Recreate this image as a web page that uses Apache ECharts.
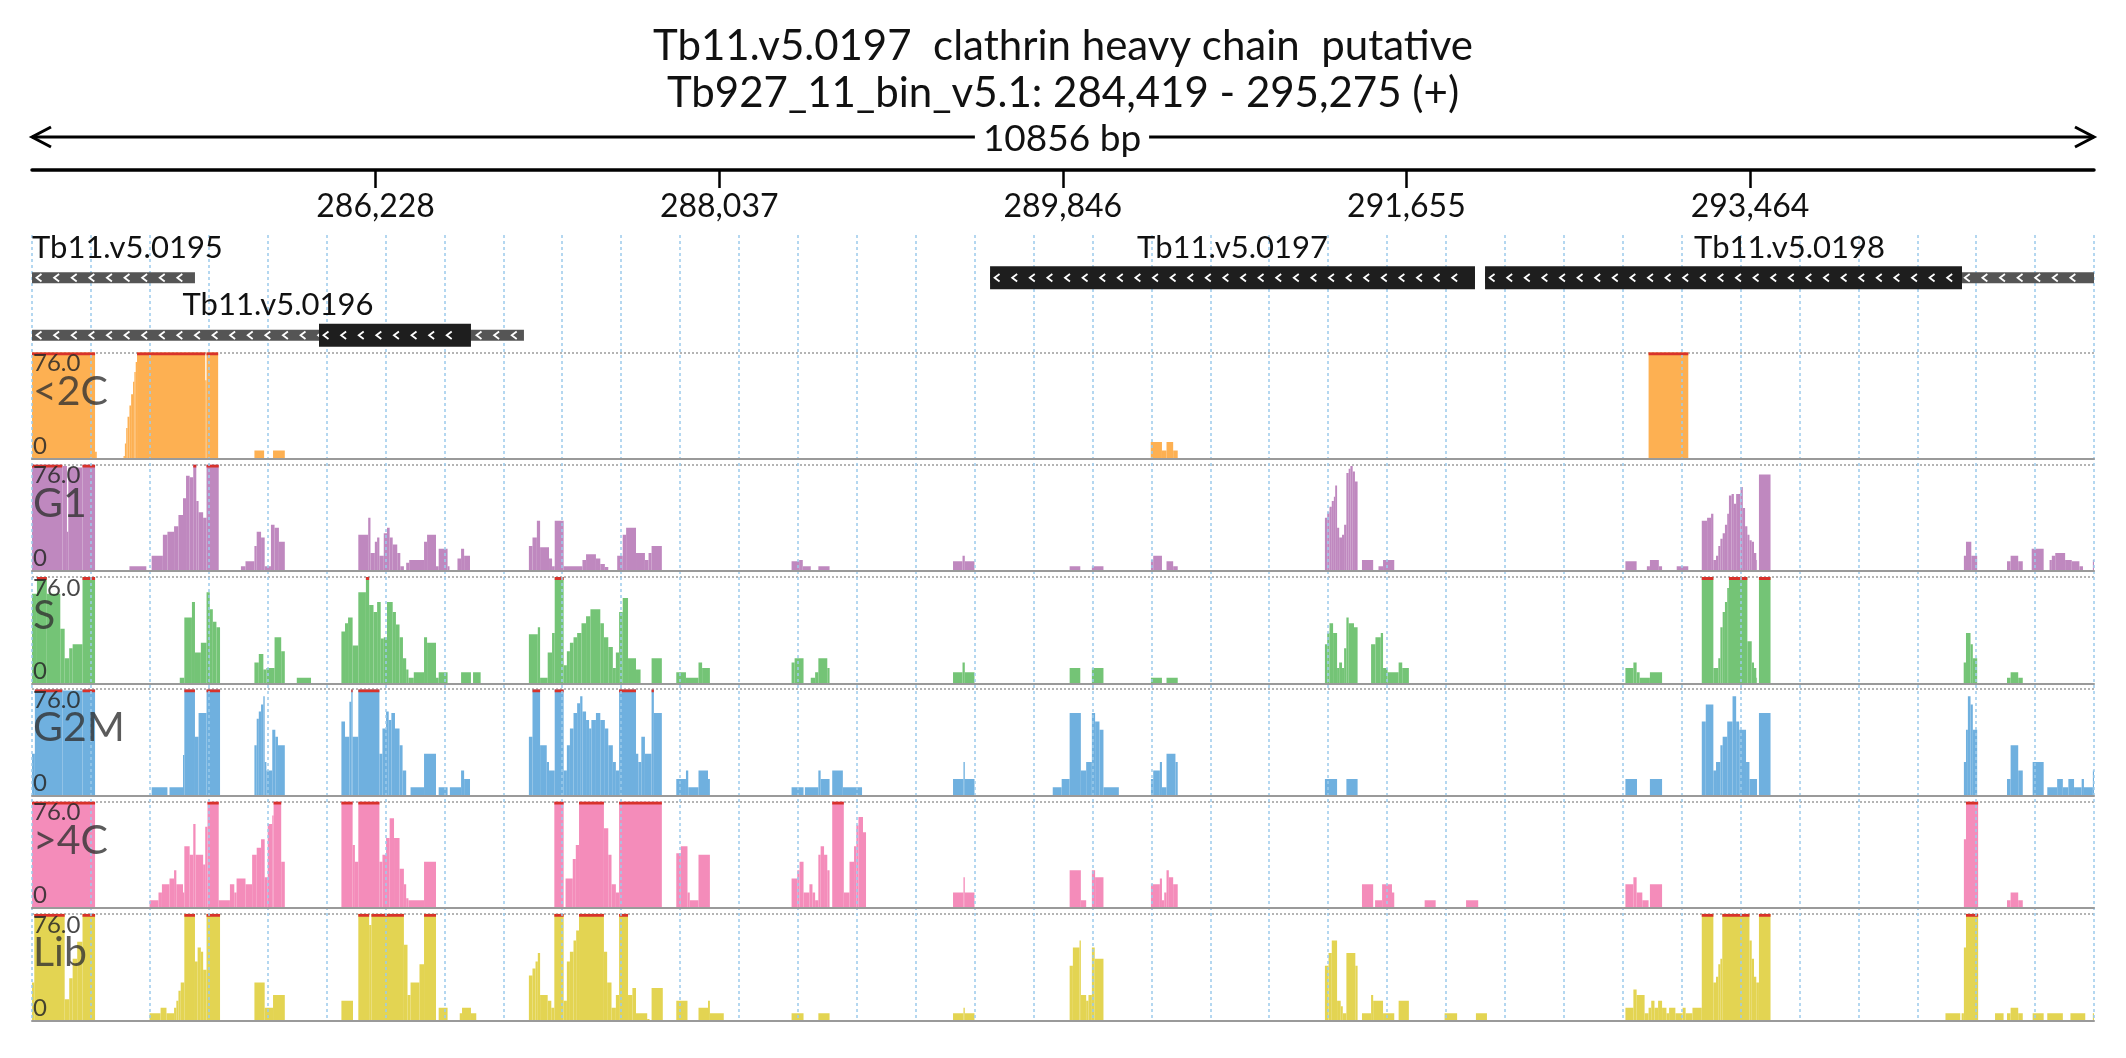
<!DOCTYPE html>
<html>
<head>
<meta charset="utf-8">
<script src="https://cdn.jsdelivr.net/npm/echarts@6/dist/echarts.min.js"></script>
<style>
html, body { margin: 0; padding: 0; background: #fff; }
#chart { width: 2126px; height: 1058px; }
</style>
</head>
<body>
<div id="chart"></div>
<script>
var REGION_START = 284419;
var REGION_END = 295275;
var REGION_LEN = REGION_END - REGION_START;
var TICK_OFFSETS = [1809, 3618, 5427, 7236, 9045];
var GRID_DIVISIONS = 35;
var TRACK_MAX = 76;

var trackNames = ['<2C', 'G1', 'S', 'G2M', '>4C', 'Lib'];
var trackColors = ['#fdb052', '#bf88bf', '#74c476', '#6fb0df', '#f48cba', '#e3d452'];

var geneNames = ['Tb11.v5.0195', 'Tb11.v5.0196', 'Tb11.v5.0197', 'Tb11.v5.0198'];
var geneRows = [0, 1, 0, 0];
var geneSpans = [[0, 858], [0, 2590], [5044, 7597], [7650, 10856]];
var cdsSpans = [null, [1511, 2311], [5044, 7597], [7650, 10161]];

// coverage steps: [offset from region start (bp), reads]; value holds until next offset, > 76 is clipped
var cov2C = [[0,80],[332,5],[341,0],[482,2],[489,11],[496,22],[503,30],[513,38],[522,46],[532,55],[539,62],[546,69],[553,80],[912,56],[919,80],[980,0],
  [1171,6],[1222,0],[1269,6],[1331,0],[5890,12],[5949,6],[5973,12],[6008,6],[6032,0],[8511,80],[8720,0]];

var covG1 = [[0,80],[160,75],[184,28],[191,74],[266,80],[332,0],[513,3.5],[602,0],
  [630,11],[689,26],[713,28],[748,32],[771,40],[795,52],[811,68],[830,67],[849,80],[865,50],[877,42],[901,38],[919,80],[983,0],
  [1100,3.5],[1124,7],[1171,18],[1183,28],[1206,24],[1225,3.5],[1258,33],[1277,31],[1300,21],[1331,0],
  [1718,26],[1770,38],[1782,13],[1805,21],[1817,24],[1829,11],[1852,27],[1869,31],[1883,24],[1899,19],[1923,13],[1939,3.5],[1958,0],
  [1970,6],[1986,8],[2064,21],[2080,26],[2127,3.5],[2141,16],[2188,3.5],[2198,0],[2240,9],[2259,16],[2275,11],[2306,0],
  [2616,18],[2635,24],[2658,36],[2675,17],[2722,9],[2738,3.5],[2752,36],[2799,3.5],[2898,8],[2917,12],[2969,9],[2992,5],[3016,3],[3034,0],
  [3081,11],[3110,26],[3128,31],[3180,13],[3227,8],[3246,13],[3262,18],[3316,0],
  [3999,7],[4039,8],[4058,3.5],[4100,0],[4140,3.5],[4199,0],[4849,7],[4899,11],[4911,7],[4962,0],
  [5463,3.5],[5519,0],[5580,3.5],[5641,0],[5891,8],[5903,11],[5949,0],[5973,7],[6008,3.5],[6032,0],
  [6807,38],[6819,42],[6831,46],[6843,50],[6854,53],[6861,61],[6871,31],[6882,24],[6897,26],[6908,33],[6920,70],[6932,73],[6941,75],[6953,71],[6965,64],[6979,0],
  [7002,8],[7061,0],[7089,3.5],[7113,8],[7172,0],
  [8389,7],[8448,0],[8502,3.5],[8518,8],[8565,3.5],[8582,0],[8659,3.5],[8720,0],
  [8791,36],[8819,38],[8840,41],[8852,8],[8866,11],[8878,18],[8889,23],[8901,27],[8913,33],[8925,41],[8934,54],[8948,55],[8960,48],[8972,55],[8995,60],
  [9007,45],[9019,32],[9031,26],[9042,22],[9054,21],[9066,13],[9078,8],[9082,0],[9092,69],[9153,0],
  [10171,11],[10182,21],[10210,11],[10241,0],[10398,7],[10417,11],[10457,7],[10481,0],[10528,16],[10591,0],
  [10622,8],[10634,11],[10652,13],[10704,8],[10739,7],[10779,3.5],[10798,0],[10850,8],[10856,0]];

var covS = [[0,64],[26,80],[78,64],[149,39],[172,18],[196,25],[214,28],[266,80],[332,0],
  [778,4],[802,47],[842,58],[858,22],[889,29],[919,65],[936,53],[952,44],[971,40],[990,0],
  [1171,15],[1194,21],[1218,10],[1234,11],[1277,33],[1312,23],[1331,0],[1394,4],[1469,0],
  [1629,37],[1648,43],[1664,47],[1688,27],[1718,65],[1758,80],[1775,56],[1798,51],[1817,58],[1836,32],[1852,33],[1869,58],[1899,51],[1916,42],
  [1935,33],[1953,18],[1970,10],[1982,4],[2010,8],[2064,33],[2080,29],[2127,4],[2141,8],[2188,0],[2259,8],[2311,0],[2322,8],[2362,0],
  [2616,35],[2663,40],[2675,4],[2715,22],[2738,36],[2752,80],[2799,13],[2816,23],[2832,29],[2851,33],[2870,36],[2893,43],[2917,48],[2940,53],
  [2992,43],[3011,33],[3034,26],[3058,11],[3074,22],[3091,51],[3110,61],[3138,18],[3180,10],[3204,0],[3262,18],[3316,0],
  [3392,8],[3443,4],[3509,15],[3528,11],[3569,0],
  [3999,15],[4015,18],[4062,0],[4100,4],[4123,8],[4140,18],[4187,11],[4199,0],[4849,8],[4899,15],[4911,8],[4962,0],
  [5463,11],[5519,0],[5580,11],[5641,0],[5891,4],[5949,0],[5973,4],[6032,0],
  [6807,28],[6819,36],[6831,43],[6850,36],[6871,11],[6882,15],[6897,11],[6908,25],[6920,47],[6932,43],[6960,40],[6979,0],
  [7050,28],[7073,33],[7101,36],[7113,11],[7137,8],[7195,15],[7214,11],[7249,0],
  [8389,11],[8431,15],[8448,8],[8464,4],[8518,8],[8582,0],
  [8791,80],[8852,11],[8878,18],[8889,40],[8901,51],[8913,58],[8925,68],[8934,80],[9031,30],[9054,15],[9066,11],[9078,4],[9082,0],[9092,80],[9153,0],
  [10170,15],[10182,36],[10206,28],[10218,18],[10241,0],[10398,4],[10417,8],[10457,4],[10481,0]];

var covG2M = [[0,30],[15,80],[160,75],[266,80],[332,0],
  [630,6],[713,0],[724,6],[795,29],[802,80],[858,42],[877,59],[919,80],[990,0],
  [1171,36],[1183,55],[1194,60],[1206,65],[1218,71],[1225,24],[1234,18],[1265,47],[1281,42],[1295,36],[1331,0],
  [1629,53],[1648,42],[1671,67],[1681,80],[1688,42],[1718,80],[1829,30],[1845,48],[1864,60],[1878,54],[1892,59],[1911,48],[1935,36],[1951,18],[1970,0],
  [1993,6],[2064,30],[2127,0],[2141,6],[2188,0],[2200,6],[2259,18],[2275,12],[2306,0],
  [2616,42],[2635,80],[2675,36],[2710,24],[2722,18],[2752,80],[2799,18],[2816,36],[2832,48],[2851,59],[2870,66],[2886,71],[2898,60],[2917,54],
  [2933,48],[2945,54],[2969,59],[2992,54],[3016,48],[3034,36],[3058,24],[3074,18],[3091,80],[3180,30],[3192,24],[3208,42],[3227,30],[3262,80],[3274,59],[3316,0],
  [3392,12],[3443,18],[3455,6],[3509,18],[3559,12],[3569,0],
  [3999,6],[4062,0],[4069,6],[4140,18],[4152,12],[4199,0],[4213,18],[4269,6],[4370,0],
  [4849,12],[4904,24],[4911,12],[4962,0],
  [5374,6],[5421,12],[5463,59],[5522,18],[5550,24],[5580,59],[5597,53],[5620,47],[5641,6],[5722,0],
  [5891,12],[5903,18],[5938,24],[5949,6],[5973,30],[6020,24],[6032,0],
  [6807,12],[6871,0],[6920,12],[6979,0],[8389,12],[8450,0],[8518,12],[8582,0],
  [8791,53],[8812,65],[8852,18],[8866,24],[8889,36],[8901,42],[8925,53],[8953,71],[8972,53],[8988,47],[9024,24],[9042,12],[9082,0],[9092,59],[9153,0],
  [10171,24],[10182,47],[10192,71],[10206,65],[10218,47],[10241,0],
  [10398,12],[10417,36],[10457,18],[10481,0],[10533,24],[10591,0],
  [10610,6],[10662,12],[10692,6],[10721,12],[10751,6],[10791,12],[10803,6],[10850,18],[10856,0]];

var cov4C = [[0,80],[332,0],
  [619,5.5],[666,11],[684,17],[724,21],[748,27],[760,17],[795,11],[802,44],[830,38],[849,60],[861,38],[901,31],[912,58],[924,80],[983,5.5],
  [1042,17],[1065,11],[1077,21],[1124,17],[1159,38],[1183,43],[1206,49],[1225,22],[1241,60],[1265,66],[1272,80],[1312,33],[1331,0],
  [1629,80],[1688,45],[1700,33],[1718,80],[1829,33],[1845,38],[1864,50],[1883,64],[1906,50],[1935,28],[1958,17],[1970,7],[1982,5.5],[2064,33],[2127,0],
  [2750,80],[2799,0],[2809,21],[2847,35],[2863,45],[2880,80],[3011,57],[3034,38],[3051,17],[3074,11],[3091,80],[3316,0],
  [3392,39],[3416,44],[3451,11],[3463,5.5],[3509,38],[3569,0],
  [3999,21],[4029,27],[4041,33],[4062,11],[4093,17],[4109,11],[4123,5.5],[4140,38],[4152,44],[4170,38],[4187,27],[4199,0],
  [4213,80],[4274,11],[4304,33],[4328,44],[4340,59],[4351,65],[4375,54],[4391,0],
  [4849,11],[4904,22],[4911,11],[4962,0],[5463,27],[5522,5.5],[5550,0],[5580,27],[5597,22],[5641,0],
  [5891,17],[5938,21],[5949,5.5],[5961,11],[5973,27],[5985,22],[6008,17],[6032,0],
  [7002,17],[7061,0],[7071,5.5],[7108,17],[7160,11],[7172,0],[7332,5.5],[7390,0],[7550,5.5],[7614,0],
  [8389,17],[8431,22],[8448,11],[8478,5.5],[8511,0],[8518,17],[8582,0],
  [10171,49],[10182,80],[10246,0],[10398,5.5],[10417,11],[10457,5.5],[10481,0]];

var covLib = [[0,27],[12,80],[172,15],[196,30],[214,44],[238,56],[266,80],[332,0],
  [619,5],[677,9],[708,5],[748,9],[760,14],[771,21],[783,27],[802,80],[858,42],[872,52],[889,49],[901,36],[919,80],[990,0],
  [1171,27],[1225,9],[1269,18],[1331,0],
  [1629,14],[1690,0],[1718,80],[1775,68],[1787,80],[1958,54],[1977,18],[1993,27],[2040,40],[2064,80],[2127,0],[2141,9],[2188,0],[2252,5],[2264,9],[2311,5],[2339,0],
  [2616,32],[2635,37],[2651,42],[2663,48],[2675,18],[2715,14],[2734,9],[2750,80],[2799,14],[2816,42],[2832,49],[2851,57],[2865,64],[2880,80],
  [3011,49],[3028,27],[3051,9],[3074,18],[3091,80],[3138,18],[3161,23],[3180,5],[3239,1],[3251,0],[3262,23],[3321,0],
  [3392,14],[3451,0],[3509,9],[3559,14],[3569,5],[3642,0],
  [3999,5],[4062,0],[4140,5],[4199,0],[4849,5],[4904,9],[4911,5],[4962,0],
  [5463,39],[5480,52],[5515,57],[5522,18],[5550,14],[5562,18],[5580,52],[5595,44],[5641,0],
  [6807,39],[6826,48],[6843,57],[6871,14],[6890,10],[6901,5],[6920,48],[6967,39],[6979,0],[7002,5],[7050,18],[7061,14],[7113,5],[7172,0],[7195,14],[7249,0],
  [7437,5],[7503,0],[7602,5],[7660,0],
  [8389,9],[8431,22],[8448,18],[8490,5],[8511,9],[8525,14],[8542,9],[8561,14],[8582,9],[8605,5],[8619,9],[8652,5],[8690,9],[8706,5],[8742,9],
  [8791,80],[8852,27],[8866,31],[8878,40],[8889,44],[8899,80],[9042,57],[9054,44],[9066,31],[9078,27],[9092,80],[9153,0],
  [10074,5],[10152,0],[10159,5],[10171,52],[10182,80],[10246,0],[10335,5],[10380,0],[10398,5],[10417,9],[10457,5],[10481,0],
  [10533,5],[10591,0],[10610,5],[10692,0],[10732,5],[10810,0],[10850,5],[10856,0]];

var coverage = [cov2C, covG1, covS, covG2M, cov4C, covLib];

// layout
var PAD_L = 32, PAD_R = 32;
var TRACK_TOP = 352.3, TRACK_STEP = 112.3, TRACK_H = 106.5;
var FONT = 'Lato';

function toSegments(steps) {
  var out = [];
  for (var i = 0; i < steps.length - 1; i++) {
    if (steps[i][1] > 0) out.push([steps[i][0], steps[i + 1][0], steps[i][1]]);
  }
  return out;
}

function makeCovRenderer(color) {
  return function (params, api) {
    var v = api.value(2);
    var tl = api.coord([api.value(0), Math.min(v, TRACK_MAX)]);
    var br = api.coord([api.value(1), 0]);
    var w = br[0] - tl[0];
    var kids = [{
      type: 'rect',
      shape: { x: tl[0], y: tl[1], width: w, height: br[1] - tl[1] },
      style: { fill: color }
    }];
    if (v > TRACK_MAX) {
      kids.push({ type: 'rect', shape: { x: tl[0], y: tl[1], width: w, height: 3 }, style: { fill: '#d8322b' } });
    }
    return { type: 'group', children: kids };
  };
}

function renderGene(params, api) {
  var s = api.value(0), e = api.value(1), row = api.value(2), kind = api.value(3), gi = api.value(4);
  var a = api.coord([s, row + 0.5]);
  var b = api.coord([e, row + 0.5]);
  if (kind === 2) {
    var text = geneNames[gi];
    var cx = (a[0] + b[0]) / 2, half = text.length * 8;
    var align = 'center';
    if (cx - half < params.coordSys.x) { cx = params.coordSys.x; align = 'left'; }
    return {
      type: 'text', x: cx, y: a[1] - 16,
      style: { text: text, fontSize: 31, fontFamily: FONT, fill: '#111', align: align, verticalAlign: 'middle' }
    };
  }
  var cy = a[1] + 14, h = kind === 1 ? 23 : 11;
  var kids = [{
    type: 'rect',
    shape: { x: a[0], y: cy - h / 2, width: b[0] - a[0], height: h },
    style: { fill: kind === 1 ? '#1e1e1e' : '#555555' }
  }];
  for (var x = a[0] + 7; x < b[0] - 5; x += 17.6) {
    kids.push({
      type: 'polyline',
      shape: { points: [[x + 2.5, cy - 3.8], [x - 2.5, cy], [x + 2.5, cy + 3.8]] },
      style: { stroke: '#fff', lineWidth: 1.8, fill: null }
    });
  }
  return { type: 'group', children: kids };
}

var geneData = [];
geneNames.forEach(function (n, gi) {
  var sp = geneSpans[gi];
  geneData.push([sp[0], sp[1], geneRows[gi], 0, gi]);
  if (cdsSpans[gi]) geneData.push([cdsSpans[gi][0], cdsSpans[gi][1], geneRows[gi], 1, gi]);
  geneData.push([sp[0], sp[1], geneRows[gi], 2, gi]);
});

function fmt(n) { return n.toString().replace(/\B(?=(\d{3})+(?!\d))/g, ','); }

var grids = [
  { left: PAD_L, right: PAD_R, top: 150, height: 20, outerBoundsMode: 'none' },
  { left: PAD_L, right: PAD_R, top: 235, height: 786, outerBoundsMode: 'none' },
  { left: PAD_L, right: PAD_R, top: 235, height: 115, outerBoundsMode: 'none' }
];
var xAxes = [
  {
    gridIndex: 0, type: 'value', min: 0, max: REGION_LEN, position: 'bottom',
    axisLine: { lineStyle: { color: '#000', width: 3.5 } },
    axisTick: { customValues: TICK_OFFSETS, length: 18, lineStyle: { color: '#000', width: 2.5 } },
    axisLabel: {
      customValues: TICK_OFFSETS, margin: 21, fontSize: 32, fontFamily: FONT, color: '#111',
      formatter: function (v) { return fmt(v + REGION_START); }
    },
    splitLine: { show: false }
  },
  {
    gridIndex: 1, type: 'value', min: 0, max: GRID_DIVISIONS, interval: 1, z: 5,
    axisLine: { show: false }, axisTick: { show: false }, axisLabel: { show: false },
    splitLine: { show: true, lineStyle: { color: '#9ccaec', width: 1.5, type: [3, 3] } }
  },
  { gridIndex: 2, type: 'value', min: 0, max: REGION_LEN, show: false }
];
var yAxes = [
  { gridIndex: 0, type: 'value', min: 0, max: 1, show: false },
  { gridIndex: 1, type: 'value', min: 0, max: 1, show: false },
  { gridIndex: 2, type: 'value', min: 0, max: 2, inverse: true, show: false }
];
var series = [{
  type: 'custom', xAxisIndex: 2, yAxisIndex: 2, data: geneData, renderItem: renderGene,
  encode: { x: [0, 1], y: 2 }, silent: true, z: 10
}];

var graphics = [
  { type: 'text', x: 1063, y: 46, z: 100, style: { text: 'Tb11.v5.0197  clathrin heavy chain  putative', fontSize: 42, fontFamily: FONT, fill: '#111', align: 'center', verticalAlign: 'middle' } },
  { type: 'text', x: 1063, y: 93, z: 100, style: { text: 'Tb927_11_bin_v5.1: ' + fmt(REGION_START) + ' - ' + fmt(REGION_END) + ' (+)', fontSize: 42, fontFamily: FONT, fill: '#111', align: 'center', verticalAlign: 'middle' } },
  { type: 'line', z: 100, shape: { x1: PAD_L, y1: 137, x2: 2126 - PAD_R, y2: 137 }, style: { stroke: '#000', lineWidth: 3 } },
  { type: 'polyline', z: 100, shape: { points: [[PAD_L + 19, 127], [PAD_L, 137], [PAD_L + 19, 147]] }, style: { stroke: '#000', lineWidth: 3, fill: null } },
  { type: 'polyline', z: 100, shape: { points: [[2126 - PAD_R - 19, 127], [2126 - PAD_R, 137], [2126 - PAD_R - 19, 147]] }, style: { stroke: '#000', lineWidth: 3, fill: null } },
  { type: 'text', x: 1062, y: 139, z: 101, style: { text: REGION_LEN + ' bp', fontSize: 37, fontFamily: FONT, fill: '#111', align: 'center', verticalAlign: 'middle', backgroundColor: '#fff', padding: [0, 8] } }
];

trackNames.forEach(function (name, i) {
  var top = TRACK_TOP + TRACK_STEP * i;
  var gi = 3 + i;
  grids.push({ left: PAD_L, right: PAD_R, top: top, height: TRACK_H, outerBoundsMode: 'none' });
  xAxes.push({
    gridIndex: gi, type: 'value', min: 0, max: REGION_LEN, z: 6,
    axisLine: { show: true, onZero: false, lineStyle: { color: '#9a9a9a', width: 2 } },
    axisTick: { show: false }, axisLabel: { show: false }, splitLine: { show: false }
  });
  yAxes.push({
    gridIndex: gi, type: 'value', min: 0, max: TRACK_MAX, interval: TRACK_MAX,
    axisLine: { show: false }, axisTick: { show: false }, axisLabel: { show: false },
    splitLine: { show: true, lineStyle: { color: '#b4b4b4', width: 2, type: [2, 2] } }
  });
  series.push({
    type: 'custom', name: name, xAxisIndex: gi, yAxisIndex: gi,
    data: toSegments(coverage[i]), renderItem: makeCovRenderer(trackColors[i]),
    encode: { x: [0, 1], y: 2 }, clip: true, silent: true, z: 2
  });
  graphics.push(
    { type: 'text', x: PAD_L + 1, y: top + 11, z: 100, style: { text: TRACK_MAX.toFixed(1), fontSize: 24, fontFamily: FONT, fill: 'rgba(40,40,40,0.85)', verticalAlign: 'middle' } },
    { type: 'text', x: PAD_L + 1, y: top + 94, z: 100, style: { text: '0', fontSize: 24, fontFamily: FONT, fill: 'rgba(40,40,40,0.85)', verticalAlign: 'middle' } },
    { type: 'text', x: PAD_L + 1, y: top + 39, z: 100, style: { text: name, fontSize: 41, fontFamily: FONT, fill: 'rgba(50,50,50,0.8)', verticalAlign: 'middle' } }
  );
});

var chart = echarts.init(document.getElementById('chart'));
chart.setOption({
  animation: false,
  backgroundColor: '#fff',
  grid: grids,
  xAxis: xAxes,
  yAxis: yAxes,
  series: series,
  graphic: graphics
});
</script>
</body>
</html>
